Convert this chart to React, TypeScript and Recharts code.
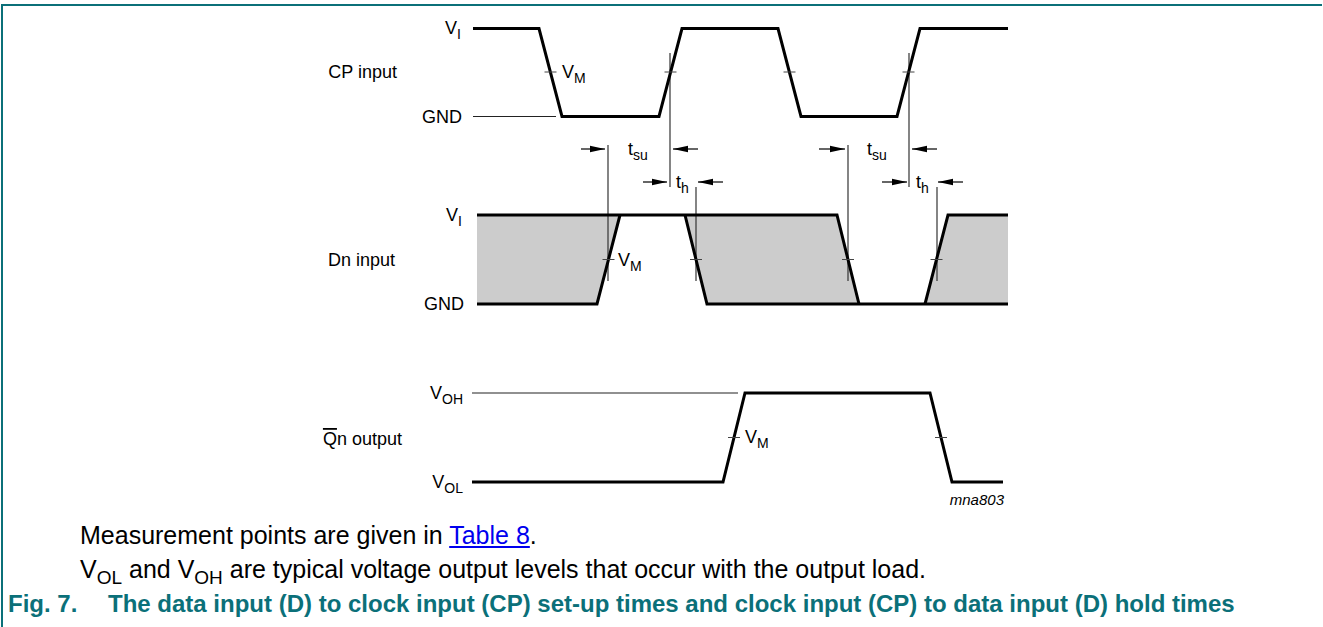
import React from "react";
import { ComposedChart, Line, Area, Scatter, XAxis, YAxis } from "recharts";

const W = 1323;
const H = 627;
const FONT = "'Liberation Sans', Arial, sans-serif";
const TEAL = "#0b7079";

// drawing units: x to the right, y downwards
const cpWave = [[473, 28.5], [539, 28.5], [562, 116.5], [659, 116.5], [682, 28.5], [778, 28.5], [801, 116.5], [897, 116.5], [920, 28.5], [1008, 28.5]];
const cpGnd = [[473, 116.5], [556, 116.5]];

const dnRise1 = [[477, 304], [597, 304], [620, 215]];
const dnTop1 = [[477, 215], [837, 215], [859, 304]];
const dnFall1 = [[685, 215], [707, 304], [1008, 304]];
const dnRise2 = [[925, 304], [948, 215], [1008, 215]];

// shaded "data may change" regions: [low, high] per x
const dnShade1 = [{ x: 477, band: [304, 215] }, { x: 597, band: [304, 215] }, { x: 620, band: [215, 215] }];
const dnShade2 = [{ x: 685, band: [215, 215] }, { x: 707, band: [304, 215] }, { x: 837, band: [304, 215] }, { x: 859, band: [304, 304] }];
const dnShade3 = [{ x: 925, band: [304, 304] }, { x: 948, band: [304, 215] }, { x: 1008, band: [304, 215] }];

const qnHigh = [[472, 393], [738, 393]];
const qnWave = [[472, 482], [723, 482], [745, 393], [930, 393], [952, 482], [1003, 482]];

const markers = [
  [[608, 145], [608, 281]],
  [[670, 53], [670, 187]],
  [[696, 187], [696, 281]],
  [[848, 145], [848, 281]],
  [[909, 53], [909, 187]],
  [[937, 187], [937, 281]],
];

const arrowShafts = [
  [[581, 149], [605, 149]],
  [[698, 149], [673, 149]],
  [[643, 182], [667, 182]],
  [[723, 182], [698, 182]],
  [[819, 149], [845, 149]],
  [[937, 149], [912, 149]],
  [[882, 182], [907, 182]],
  [[963, 182], [938, 182]],
];
const arrowHeads = [
  { x: 605, y: 149, dir: 1 }, { x: 673, y: 149, dir: -1 },
  { x: 667, y: 182, dir: 1 }, { x: 698, y: 182, dir: -1 },
  { x: 845, y: 149, dir: 1 }, { x: 912, y: 149, dir: -1 },
  { x: 907, y: 182, dir: 1 }, { x: 938, y: 182, dir: -1 },
];

const vmTicks = [
  { x: 550.5, y: 72 }, { x: 670.5, y: 72 }, { x: 789.5, y: 72 }, { x: 908.5, y: 72 },
  { x: 608.5, y: 259.5 }, { x: 696, y: 259.5 }, { x: 848, y: 259.5 }, { x: 936.5, y: 259.5 },
  { x: 734, y: 437.5 }, { x: 941, y: 437.5 },
];

const labels = [
  { x: 461, y: 28, text: "V", sub: "I", anchor: "end" },
  { x: 462, y: 116.5, text: "GND", anchor: "end" },
  { x: 397, y: 72, text: "CP input", anchor: "end" },
  { x: 562, y: 72, text: "V", sub: "M", anchor: "start" },
  { x: 462, y: 215, text: "V", sub: "I", anchor: "end" },
  { x: 464, y: 304, text: "GND", anchor: "end" },
  { x: 395, y: 260, text: "Dn input", anchor: "end" },
  { x: 618, y: 260, text: "V", sub: "M", anchor: "start" },
  { x: 463, y: 393, text: "V", sub: "OH", anchor: "end" },
  { x: 463, y: 482, text: "V", sub: "OL", anchor: "end" },
  { x: 402, y: 439, over: "Q", text: "n output", anchor: "end" },
  { x: 745, y: 437, text: "V", sub: "M", anchor: "start" },
  { x: 628, y: 149, text: "t", sub: "su", anchor: "start" },
  { x: 867, y: 149, text: "t", sub: "su", anchor: "start" },
  { x: 676, y: 182, text: "t", sub: "h", anchor: "start" },
  { x: 916, y: 182, text: "t", sub: "h", anchor: "start" },
  { x: 1004, y: 500, text: "mna803", anchor: "end", small: true },
];

const pts = (a: number[][]) => a.map(([x, y]) => ({ x, y }));

function ArrowHead({ cx, cy, payload }: any) {
  const d = payload.dir;
  return <polygon points={`${cx},${cy} ${cx - d * 15},${cy - 3.2} ${cx - d * 15},${cy + 3.2}`} fill="#000" />;
}

function Tick({ cx, cy }: any) {
  return <line x1={cx - 6} y1={cy} x2={cx + 6} y2={cy} stroke="#444" strokeWidth={1} />;
}

function Label({ cx, cy, payload }: any) {
  const p = payload;
  if (p.small) {
    return (
      <text x={cx} y={cy + 5} textAnchor={p.anchor} fontSize={15} fontStyle="italic" fontFamily={FONT} fill="#000">
        {p.text}
      </text>
    );
  }
  return (
    <text x={cx} y={cy + 6} textAnchor={p.anchor} fontSize={18} fontFamily={FONT} fill="#000">
      {p.over ? <tspan style={{ textDecoration: "overline" }}>{p.over}</tspan> : null}
      {p.text}
      {p.sub ? <tspan fontSize={14} dy={5}>{p.sub}</tspan> : null}
    </text>
  );
}

const sub = { fontSize: 19, position: "relative" as const, top: 6 };

export default function App() {
  const thick = (key: string, d: number[][]) => (
    <Line key={key} data={pts(d)} dataKey="y" type="linear" stroke="#000" strokeWidth={3}
      strokeLinejoin="miter" dot={false} activeDot={false} isAnimationActive={false} />
  );
  const thin = (key: string, d: number[][], color = "#222") => (
    <Line key={key} data={pts(d)} dataKey="y" type="linear" stroke={color} strokeWidth={1.2}
      dot={false} activeDot={false} isAnimationActive={false} />
  );
  const shade = (key: string, d: any[]) => (
    <Area key={key} data={d} dataKey="band" type="linear" stroke="none" fill="#cccccc"
      fillOpacity={1} isAnimationActive={false} activeDot={false} />
  );

  return (
    <div style={{ position: "absolute", left: 0, top: 0, width: W, height: H, background: "#fff", overflow: "hidden" }}>
      <ComposedChart width={W} height={H} margin={{ top: 0, right: 0, bottom: 0, left: 0 }}>
        <XAxis dataKey="x" type="number" domain={[0, W]} hide allowDataOverflow />
        <YAxis dataKey="y" type="number" domain={[0, H]} reversed hide allowDataOverflow />

        {shade("s1", dnShade1)}
        {shade("s2", dnShade2)}
        {shade("s3", dnShade3)}

        {thin("cpg", cpGnd)}
        {thin("qnh", qnHigh)}
        {markers.map((m, i) => thin(`m${i}`, m, "#333"))}
        {arrowShafts.map((m, i) => thin(`a${i}`, m, "#000"))}

        {thick("cp", cpWave)}
        {thick("d1", dnRise1)}
        {thick("d2", dnTop1)}
        {thick("d3", dnFall1)}
        {thick("d4", dnRise2)}
        {thick("qn", qnWave)}

        <Scatter data={vmTicks} shape={<Tick />} isAnimationActive={false} />
        <Scatter data={arrowHeads} shape={<ArrowHead />} isAnimationActive={false} />
        <Scatter data={labels} shape={<Label />} isAnimationActive={false} />
      </ComposedChart>

      {/* frame */}
      <div style={{ position: "absolute", left: 1, top: 4, width: W - 2, height: 2, background: TEAL }} />
      <div style={{ position: "absolute", left: 1, top: 4, width: 2, height: H - 4, background: TEAL }} />

      {/* notes */}
      <div style={{ position: "absolute", left: 80, top: 521, fontFamily: FONT, fontSize: 25, lineHeight: "28px", whiteSpace: "nowrap" }}>
        Measurement points are given in <span style={{ color: "#0000ee", textDecoration: "underline" }}>Table 8</span>.
      </div>
      <div style={{ position: "absolute", left: 80, top: 555, fontFamily: FONT, fontSize: 25, lineHeight: "28px", whiteSpace: "nowrap" }}>
        V<span style={sub}>OL</span> and V<span style={sub}>OH</span> are typical voltage output levels that occur with the output load.
      </div>
      <div style={{ position: "absolute", left: 8, top: 590, fontFamily: FONT, fontSize: 24, fontWeight: "bold", lineHeight: "28px", color: TEAL, whiteSpace: "nowrap" }}>
        <span>Fig. 7.</span>
        <span style={{ position: "absolute", left: 100 }}>The data input (D) to clock input (CP) set-up times and clock input (CP) to data input (D) hold times</span>
      </div>
    </div>
  );
}
